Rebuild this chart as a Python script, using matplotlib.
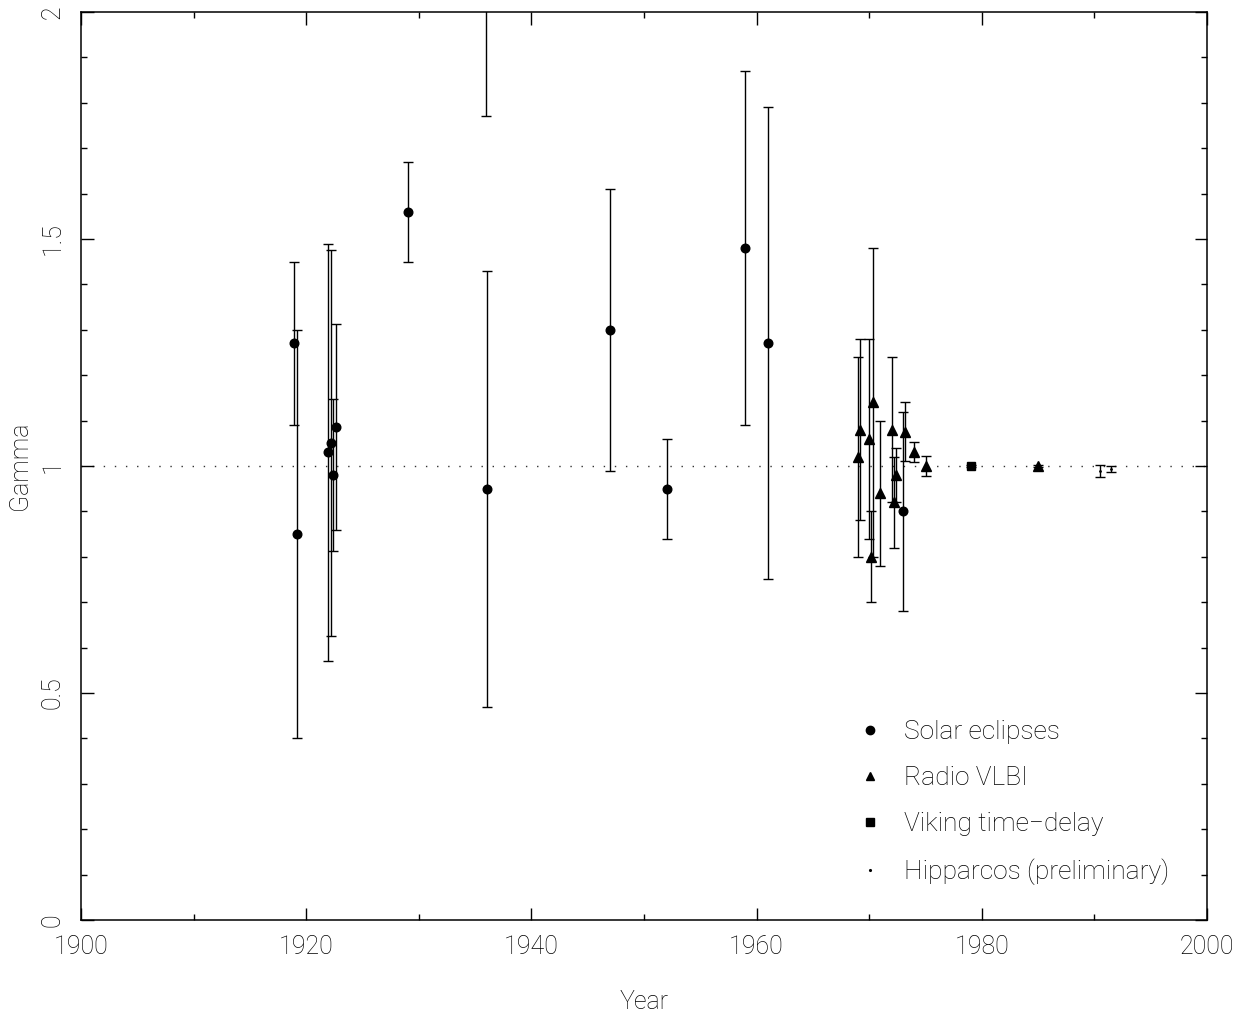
import matplotlib
matplotlib.use("Agg")
import matplotlib.pyplot as plt
from matplotlib.lines import Line2D
from matplotlib.ticker import MultipleLocator

plt.rcParams['font.family'] = ['Roboto', 'DejaVu Sans']
plt.rcParams['font.weight'] = 'light'

# Solar eclipse deflection measurements
sol_year = [1918.95, 1919.2, 1921.96, 1922.17, 1922.38, 1922.62, 1929.0,
            1936.0, 1936.05, 1947.0, 1952.0, 1959.0, 1961.0, 1973.0]
sol_gamma = [1.27, 0.85, 1.03, 1.05, 0.98, 1.085, 1.56,
             2.12, 0.95, 1.30, 0.95, 1.48, 1.27, 0.90]
sol_err = [0.18, 0.45, 0.46, 0.425, 0.167, 0.227, 0.11,
           0.35, 0.48, 0.31, 0.11, 0.39, 0.52, 0.22]

# Radio VLBI
vlbi_year = [1969.0, 1969.2, 1970.0, 1970.36, 1970.19, 1971.0, 1972.0,
             1972.2, 1972.38, 1973.2, 1974.0, 1975.0, 1985.0]
vlbi_gamma = [1.02, 1.08, 1.06, 1.14, 0.80, 0.94, 1.08,
              0.92, 0.98, 1.075, 1.03, 1.00, 1.000]
vlbi_err = [0.22, 0.20, 0.22, 0.34, 0.10, 0.16, 0.16,
            0.10, 0.06, 0.065, 0.022, 0.022, 0.002]

# Viking time delay
vik_year = [1979.0]
vik_gamma = [1.000]
vik_err = [0.002]

# Hipparcos (preliminary)
hip_year = [1990.5, 1991.5]
hip_gamma = [0.989, 0.9927]
hip_err = [0.014, 0.007]

legend_labels = ['Solar eclipses', 'Radio VLBI', 'Viking time\u2212delay',
                 'Hipparcos (preliminary)']

fig = plt.figure(figsize=(12.55, 10.17), dpi=100)
ax = fig.add_axes([0.0645, 0.0954, 0.8973, 0.8928])

ax.axhline(1.0, color='#333333', lw=1.0, ls=(0, (1, 7)), zorder=1)

eb = dict(color='black', ecolor='black', elinewidth=1.0, capsize=3.6,
          capthick=1.0, ls='none', zorder=3)
ax.errorbar(sol_year, sol_gamma, yerr=sol_err, marker='o', ms=6.2, **eb)
ax.errorbar(vlbi_year, vlbi_gamma, yerr=vlbi_err, marker='^', ms=7, **eb)
ax.errorbar(vik_year, vik_gamma, yerr=vik_err, marker='s', ms=6, **eb)
ax.errorbar(hip_year, hip_gamma, yerr=hip_err, marker='.', ms=2, **eb)

ax.set_xlim(1900, 2000)
ax.set_ylim(0, 2)
ax.xaxis.set_major_locator(MultipleLocator(20))
ax.xaxis.set_minor_locator(MultipleLocator(10))
ax.yaxis.set_major_locator(MultipleLocator(0.5))
ax.yaxis.set_minor_locator(MultipleLocator(0.1))
ax.yaxis.set_major_formatter(plt.FuncFormatter(lambda v, p: f'{v:g}'))

ax.tick_params(which='both', direction='in', top=True, right=True,
               width=1.0, labelsize=18)
ax.tick_params(which='major', length=9)
ax.tick_params(which='minor', length=4.3)
ax.tick_params(axis='x', pad=11)
ax.tick_params(axis='y', pad=12, labelrotation=90)
for lbl in ax.get_yticklabels():
    lbl.set_va('center')

for sp in ax.spines.values():
    sp.set_linewidth(1.1)

ax.set_xlabel('Year', fontsize=18, fontweight='light', labelpad=22)
ax.set_ylabel('Gamma', fontsize=18, fontweight='light', labelpad=6)

handles = [
    Line2D([], [], color='black', marker='o', ms=6, ls='none'),
    Line2D([], [], color='black', marker='^', ms=6, ls='none'),
    Line2D([], [], color='black', marker='s', ms=6, ls='none'),
    Line2D([], [], color='black', marker='.', ms=2.5, ls='none'),
]
ax.legend(handles, legend_labels, loc='upper left',
          bbox_to_anchor=(0.689, 0.2203), frameon=False,
          prop={'size': 19, 'weight': 'light'},
          handlelength=1.0, handletextpad=0.8, labelspacing=0.84,
          borderpad=0, borderaxespad=0)

fig.savefig('out.png', dpi=100)
